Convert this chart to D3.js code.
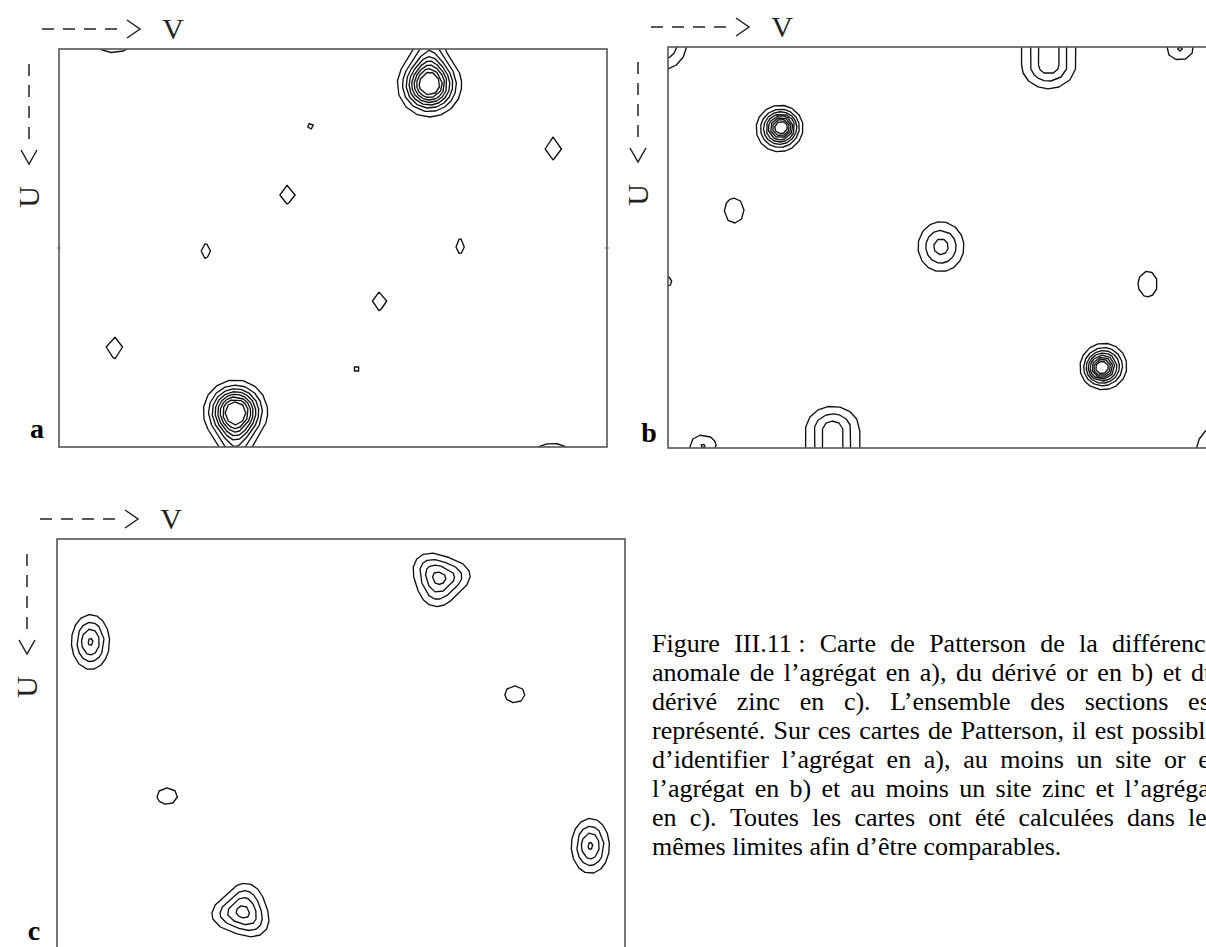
<!DOCTYPE html>
<html><head><meta charset="utf-8">
<script src="https://cdn.jsdelivr.net/npm/d3@7/dist/d3.min.js"></script>
<style>body{margin:0;background:#fff}svg{display:block}</style>
</head><body>
<svg id="chart" width="1206" height="947"></svg>
<script>
// ---------------- data ----------------
const contourLevels = [1, 2, 3, 4, 5, 6, 7, 8];
// peak columns: u (down, 0..1), v (across, 0..1), height, sigmaU, sigmaV, shape (2 round, 1 diamond), uEnd (ridge end, optional)
const peaksA = [
  [0.090, 0.676, 10, 0.0377, 0.0274, 2],
  [-0.06, 0.676, 2.3, 0.030, 0.018, 2, 0.02],
  [0.912, 0.322, 10, 0.0377, 0.0274, 2],
  [0.980, 0.322, 2.3, 0.030, 0.018, 2, 1.06],
  [-0.02, 0.100, 1.6, 0.030, 0.036, 2],
  [1.02, 0.900, 1.6, 0.030, 0.036, 2],
  [0.250, 0.902, 1.5, 0.033, 0.0173, 1],
  [0.751, 0.101, 1.5, 0.032, 0.018, 1],
  [0.366, 0.417, 1.5, 0.028, 0.016, 1],
  [0.634, 0.585, 1.5, 0.028, 0.015, 1],
  [0.508, 0.268, 1.5, 0.025, 0.0097, 1],
  [0.496, 0.732, 1.5, 0.026, 0.009, 1],
  [0.194, 0.459, 1.5, 0.0083, 0.006, 2],
  [0.804, 0.543, 1.5, 0.0083, 0.006, 2]
];
const peaksB = [
  [0.204, 0.203, 7.0, 0.0290, 0.0212, 2],
  [0.196, 0.212, 3.0, 0.0200, 0.0150, 2],
  [0.796, 0.797, 7.0, 0.0290, 0.0212, 2],
  [0.804, 0.788, 3.0, 0.0200, 0.0150, 2],
  [0.498, 0.499, 3.4, 0.0398, 0.0269, 2],
  [0.408, 0.121, 1.5, 0.0346, 0.020, 2],
  [0.591, 0.877, 1.5, 0.0355, 0.0197, 2],
  [-0.05, 0.696, 3.6, 0.037, 0.031, 2, 0.045],
  [0.955, 0.301, 3.6, 0.037, 0.031, 2, 1.05],
  [-0.01, -0.01, 3.0, 0.045, 0.030, 2],
  [1.01, 1.01, 3.0, 0.045, 0.030, 2],
  [0.005, 0.936, 2.05, 0.023, 0.020, 2],
  [0.995, 0.064, 2.05, 0.023, 0.020, 2],
  [0.585, -0.004, 1.5, 0.015, 0.012, 2],
  [0.415, 1.004, 1.5, 0.015, 0.012, 2]
];
const peaksC = [
  [0.095, 0.672, 3.6, 0.030, 0.024, 2],
  [0.088, 0.708, 1.2, 0.025, 0.020, 2],
  [0.140, 0.668, 1.2, 0.025, 0.020, 2],
  [0.062, 0.651, 1.2, 0.025, 0.020, 2],
  [0.905, 0.328, 3.6, 0.030, 0.024, 2],
  [0.912, 0.292, 1.2, 0.025, 0.020, 2],
  [0.860, 0.332, 1.2, 0.025, 0.020, 2],
  [0.938, 0.349, 1.2, 0.025, 0.020, 2],
  [0.250, 0.059, 4.1, 0.0398, 0.020, 2],
  [0.745, 0.939, 4.1, 0.0398, 0.020, 2],
  [0.377, 0.806, 1.5, 0.0229, 0.0196, 2],
  [0.624, 0.194, 1.5, 0.0224, 0.020, 2]
];
const panelLetters = ["a", "b", "c"];
const axisLabels = ["V", "U"];
const edgeTicksA = [0.5];
const captionLines = [
  "Figure III.11\u00a0: Carte de Patterson de la différence",
  "anomale de l’agrégat en a), du dérivé or en b) et du",
  "dérivé zinc en c). L’ensemble des sections est",
  "représenté. Sur ces cartes de Patterson, il est possible",
  "d’identifier l’agrégat en a), au moins un site or et",
  "l’agrégat en b) et au moins un site zinc et l’agrégat",
  "en c). Toutes les cartes ont été calculées dans les",
  "mêmes limites afin d’être comparables."
];

// ---------------- layout ----------------
const svg = d3.select("#chart");
svg.append("rect").attr("width", 1206).attr("height", 947).attr("fill", "#fff");
const panels = [
  {peaks: peaksA, x: 59, y: 49, w: 548, h: 398, lx: -22, ly: 389, ticks: edgeTicksA},
  {peaks: peaksB, x: 668, y: 47, w: 547, h: 401, lx: -19, ly: 395, ticks: []},
  {peaks: peaksC, x: 57, y: 539, w: 568, h: 412, lx: -23, ly: 401, ticks: []}
];
const serif = "'Liberation Serif', 'Times New Roman', serif";

function field(peaks, u, v) {
  let s = 0;
  for (const pk of peaks) {
    const [pu, pv, h, su, sv, p, pu2] = pk;
    let du;
    if (pu2 !== undefined) du = u < pu ? pu - u : (u > pu2 ? u - pu2 : 0);
    else du = u - pu;
    const a = Math.abs(du) / su, b = Math.abs(v - pv) / sv;
    const d = p === 1 ? a + b : Math.sqrt(a * a + b * b);
    s += h * Math.exp(-0.5 * d * d);
  }
  return s;
}

// Douglas-Peucker to give the coarse, faceted look of the original plotter output
function dp(pts, tol) {
  if (pts.length < 3) return pts;
  const a = pts[0], b = pts[pts.length - 1];
  const dx = b[0] - a[0], dy = b[1] - a[1], L = Math.hypot(dx, dy) || 1e-9;
  let md = 0, mi = 0;
  for (let i = 1; i < pts.length - 1; i++) {
    const d = Math.abs(dy * (pts[i][0] - a[0]) - dx * (pts[i][1] - a[1])) / L;
    if (d > md) { md = d; mi = i; }
  }
  if (md > tol) return dp(pts.slice(0, mi + 1), tol).concat(dp(pts.slice(mi), tol).slice(1));
  return [a, b];
}
function simplifyRing(ring, tol) {
  const pts = ring.slice(0, -1);
  if (pts.length < 5) return ring;
  let far = 0, fd = 0;
  pts.forEach((p, i) => { const d = (p[0] - pts[0][0]) ** 2 + (p[1] - pts[0][1]) ** 2; if (d > fd) { fd = d; far = i; } });
  const h1 = dp(pts.slice(0, far + 1), tol);
  const h2 = dp(pts.slice(far).concat([pts[0]]), tol);
  let out = h1.concat(h2.slice(1));
  if (out.length < 5) {
    const n = pts.length, q = [];
    for (let k = 0; k < 4; k++) q.push(pts[Math.floor(k * n / 4)]);
    q.push(q[0]);
    out = q;
  }
  return out;
}

panels.forEach((P, k) => {
  const g = svg.append("g");
  const xs = d3.scaleLinear().domain([0, 1]).range([P.x, P.x + P.w]); // V
  const ys = d3.scaleLinear().domain([0, 1]).range([P.y, P.y + P.h]); // U
  const step = 2, pad = 30;
  const gx0 = P.x - pad, gy0 = P.y - pad;
  const nx = Math.ceil((P.w + 2 * pad) / step) + 1;
  const ny = Math.ceil((P.h + 2 * pad) / step) + 1;
  const values = new Float64Array(nx * ny);
  for (let j = 0; j < ny; j++) {
    const u = ys.invert(gy0 + j * step);
    for (let i = 0; i < nx; i++) {
      const v = xs.invert(gx0 + i * step);
      values[j * nx + i] = field(P.peaks, u, v);
    }
  }
  const contours = d3.contours().size([nx, ny]).thresholds(contourLevels)(values);
  const toPx = c => [gx0 + (c[0] - 0.5) * step, gy0 + (c[1] - 0.5) * step];
  contours.forEach(c => {
    c.coordinates = c.coordinates.map(poly => poly.map(ring => simplifyRing(ring.map(toPx), 1.0)));
  });
  const path = d3.geoPath();
  const cid = "clip" + k;
  svg.append("clipPath").attr("id", cid).append("rect")
    .attr("x", P.x).attr("y", P.y).attr("width", P.w).attr("height", P.h);
  g.append("g").attr("clip-path", `url(#${cid})`)
    .selectAll("path").data(contours).join("path")
    .attr("d", path).attr("fill", "none").attr("stroke", "#111").attr("stroke-width", 1.35)
    .attr("stroke-linejoin", "round");
  g.append("rect").attr("x", P.x).attr("y", P.y).attr("width", P.w).attr("height", P.h)
    .attr("fill", "none").attr("stroke", "#555").attr("stroke-width", 1.6);
  P.ticks.forEach(t => {
    g.append("line").attr("x1", P.x - 2).attr("x2", P.x + 2).attr("y1", ys(t)).attr("y2", ys(t)).attr("stroke", "#777").attr("stroke-width", 1);
    g.append("line").attr("x1", P.x + P.w - 2).attr("x2", P.x + P.w + 2).attr("y1", ys(t)).attr("y2", ys(t)).attr("stroke", "#777").attr("stroke-width", 1);
  });

  // axis direction labels
  const fx = P.x, fy = P.y;
  const line = (x1, y1, x2, y2) => g.append("line").attr("x1", x1).attr("y1", y1).attr("x2", x2).attr("y2", y2)
    .attr("stroke", "#222").attr("stroke-width", 1.5).attr("stroke-dasharray", "12 9");
  line(fx - 17, fy - 20, fx + 58, fy - 20);
  g.append("path").attr("d", `M${fx + 68},${fy - 29}L${fx + 81},${fy - 20}L${fx + 68},${fy - 11}`)
    .attr("stroke", "#222").attr("stroke-width", 1.5).attr("fill", "none");
  g.append("text").attr("x", fx + 114).attr("y", fy - 10).attr("text-anchor", "middle")
    .attr("font-family", serif).attr("font-size", 30).attr("fill", "#222").text(axisLabels[0]);
  line(fx - 30, fy + 15, fx - 30, fy + 95);
  g.append("path").attr("d", `M${fx - 38},${fy + 101}L${fx - 30},${fy + 115}L${fx - 22},${fy + 101}`)
    .attr("stroke", "#222").attr("stroke-width", 1.5).attr("fill", "none");
  g.append("text").attr("transform", `translate(${fx - 30},${fy + 148}) rotate(-90)`)
    .attr("text-anchor", "middle").attr("dy", "0.33em")
    .attr("font-family", serif).attr("font-size", 30).attr("fill", "#222").text(axisLabels[1]);
  g.append("text").attr("x", fx + P.lx).attr("y", fy + P.ly).attr("text-anchor", "middle")
    .attr("font-family", serif).attr("font-weight", "bold").attr("font-size", 28).attr("fill", "#000")
    .text(panelLetters[k]);
});

// ---------------- caption (justified) ----------------
const capX = 652, capY0 = 652, capLH = 29, capRight = 1217, capSize = 26;
const cap = svg.append("g").attr("font-family", serif).attr("font-size", capSize).attr("fill", "#000");
const meas = cap.append("text").attr("x", -1000).attr("y", -1000);
const measure = s => { meas.text(s); return meas.node().getComputedTextLength(); };
const spaceW = capSize * 0.25;
captionLines.forEach((ln, i) => {
  const words = ln.split(" ");
  const widths = words.map(measure);
  const last = i === captionLines.length - 1;
  const gap = last ? spaceW : (capRight - capX - d3.sum(widths)) / (words.length - 1);
  let x = capX;
  words.forEach((w, j) => {
    cap.append("text").attr("x", x).attr("y", capY0 + i * capLH).text(w);
    x += widths[j] + gap;
  });
});
meas.remove();
</script>
</body></html>
